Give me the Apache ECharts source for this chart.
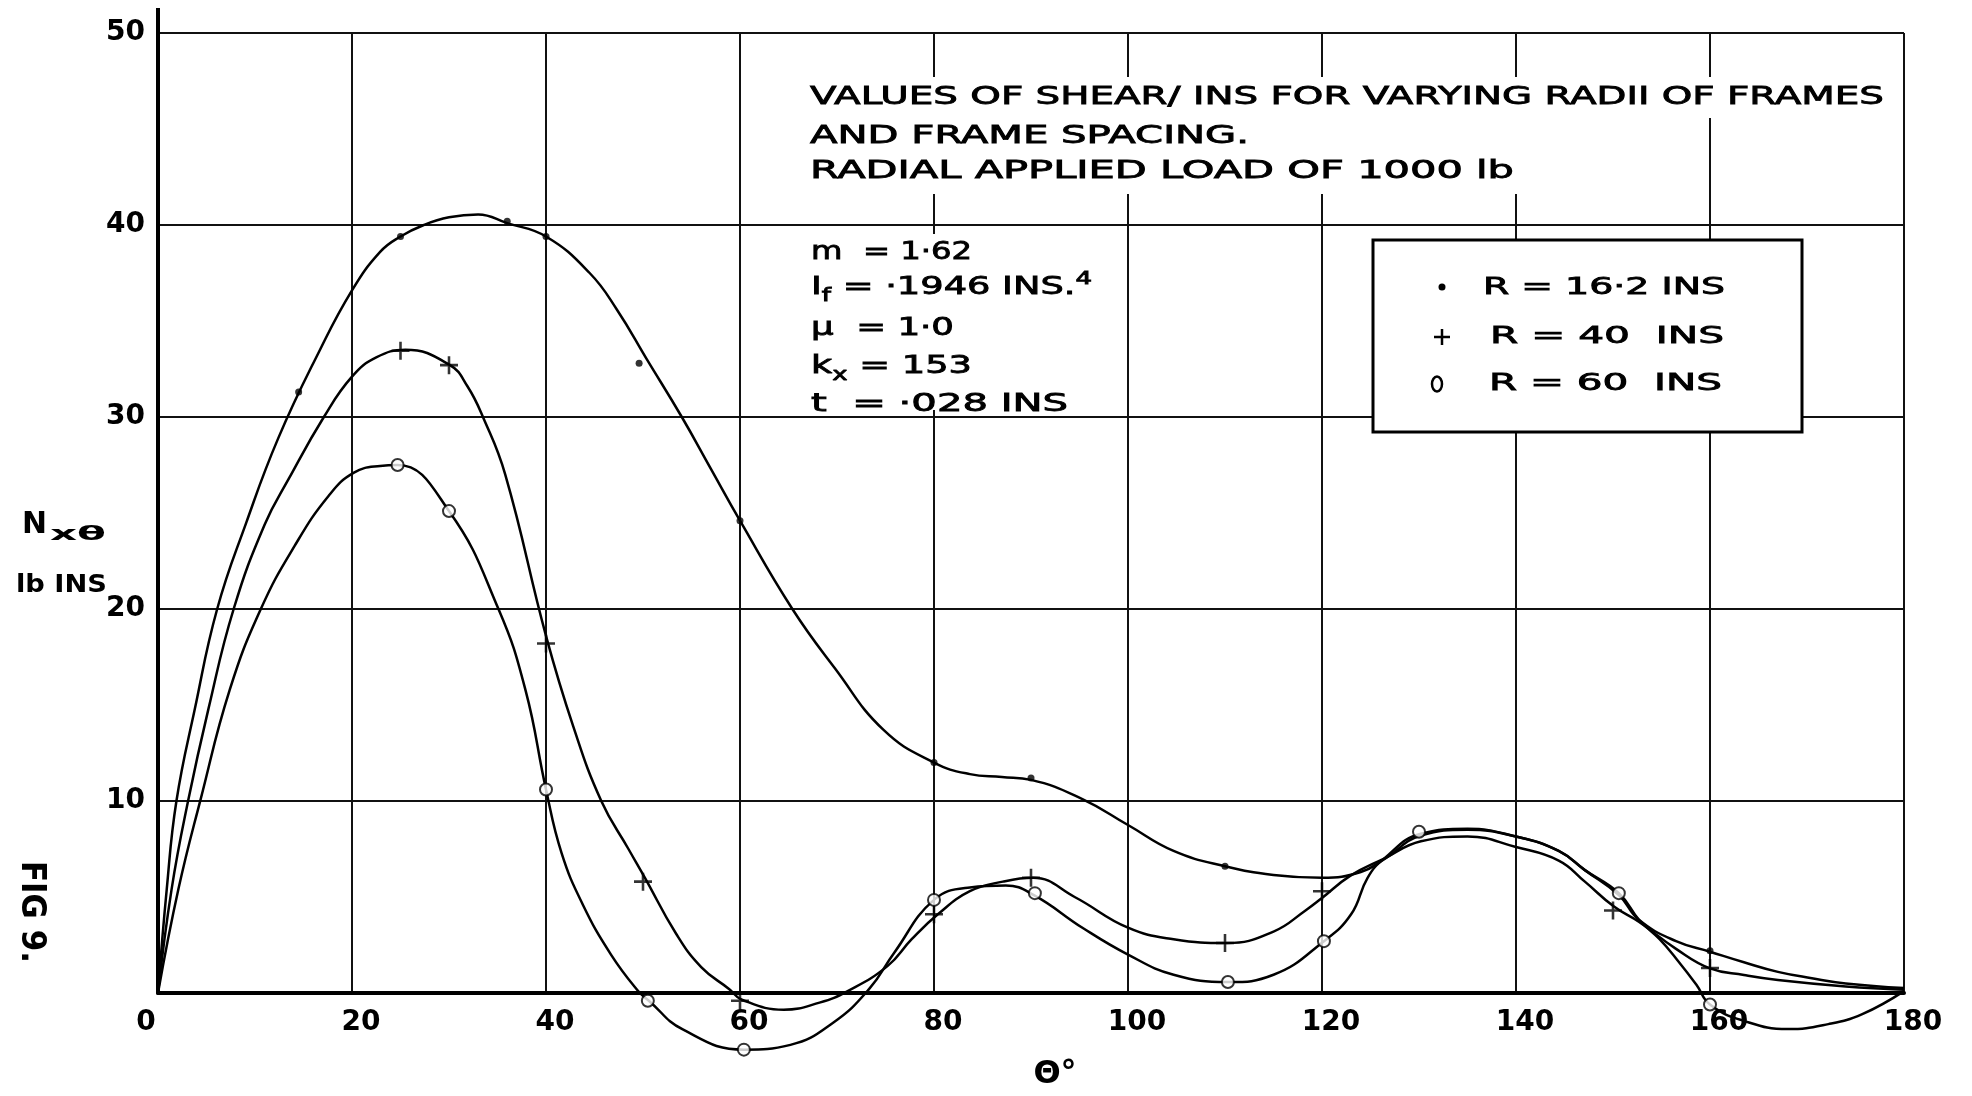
<!DOCTYPE html>
<html>
<head>
<meta charset="utf-8">
<script src="https://cdn.jsdelivr.net/npm/echarts@6/dist/echarts.min.js"></script>
<style>
html,body{margin:0;padding:0;background:#ffffff;}
#chart{width:1972px;height:1096px;}
</style>
</head>
<body>
<div id="chart"></div>
<script>
// ---------------- data ----------------
const xTickValues = [0, 20, 40, 60, 80, 100, 120, 140, 160, 180];
const xTickLabels = ['0', '20', '40', '60', '80', '100', '120', '140', '160', '180'];
const yTickValues = [0, 10, 20, 30, 40, 50];
const yTickLabels = ['', '10', '20', '30', '40', '50'];

const seriesNames = ['R = 16·2 INS', 'R = 40  INS', 'R = 60  INS'];

// faired curves (theta in degrees, N x-theta in lb/in)
const curveR16 = [[0,0],[0.9,5.4],[1.9,10],[3.8,14.8],[6.1,20],[9.1,24.5],[12.4,28.9],[16.6,33.4],[20,36.6],[22.9,38.6],[25,39.4],[27.4,40],[30,40.4],[33,40.55],[36,40.1],[40,39.4],[44.5,37.5],[47.3,35.6],[50.4,33.0],[54,30.0],[57,27.3],[60,24.6],[65.4,20],[69.8,16.9],[74.8,13.7],[80,12.0],[83.7,11.4],[87,11.25],[90,11.1],[95.3,10.1],[100,8.75],[104.7,7.4],[110,6.6],[115,6.15],[120,6.0],[124,6.3],[126.5,7.0],[130.2,8.2],[135,8.5],[140,8.15],[144.4,7.4],[147.1,6.4],[150.6,5.1],[152.7,3.8],[156.5,2.7],[160,2.15],[163.5,1.6],[167,1.1],[170.5,0.77],[174,0.5],[180,0.26]];
const curveR40 = [[0,0],[1.4,5.4],[3.1,10],[5.2,14.8],[7.8,20],[11,24.4],[13.5,26.8],[17.1,30],[20,32.1],[22.5,33.1],[25.5,33.5],[30.1,32.7],[31.9,31.6],[33.5,30],[35.8,27.0],[40,18.6],[42.8,13.9],[45.7,10],[48.5,7.5],[50.2,6.0],[53.4,3.1],[56,1.35],[58.9,0.2],[60.2,-0.35],[64.5,-0.87],[68.2,-0.5],[71.1,0.1],[75.2,1.4],[77.7,2.8],[80.4,4.1],[83.7,5.3],[87.1,5.8],[90.2,6.0],[94.5,5.0],[100,3.4],[104.7,2.8],[110.2,2.6],[115,3.2],[118.3,4.3],[120,4.95],[122.9,6.1],[126.4,7.0],[130.2,7.9],[135,8.15],[140,7.6],[144.4,6.9],[147.1,5.8],[150.1,4.5],[152.7,3.7],[156.5,2.3],[160,1.28],[163.5,0.94],[167,0.68],[174,0.34],[180,0.17]];
const curveR60 = [[0,0],[2.1,5.4],[4.4,10.1],[7.4,15.8],[10.6,20],[14.1,23.3],[17.6,25.9],[20.2,27.1],[22.9,27.45],[24.7,27.5],[30,25.1],[35.1,20],[37.9,15.75],[40,10.6],[41.6,7.3],[43.8,4.6],[46.7,2.0],[49.5,0.1],[50.6,-0.4],[54.1,-1.9],[60.4,-2.95],[65.2,-2.7],[69.6,-1.55],[73.3,0.2],[75.9,2.1],[80,4.85],[83.7,5.5],[87.4,5.6],[90.3,5.1],[95.3,3.4],[100,2.0],[104.7,0.95],[110.3,0.57],[115,0.95],[120.2,2.7],[123,4.1],[124.7,6.0],[126.4,7.0],[130.2,8.3],[135,8.55],[140,8.15],[144.4,7.4],[147.1,6.4],[150.6,5.2],[152.7,3.8],[154.8,2.8],[156.5,1.8],[158.6,0.43],[160,-0.6],[163.5,-1.45],[168,-1.88],[172.2,-1.62],[175.7,-1.1],[180,0.1]];

// plotted points
const pointsR16 = [[14.5,31.3],[25,39.4],[36,40.2],[40,39.4],[49.6,32.8],[60,24.6],[80,12.0],[90,11.2],[110,6.6],[160,2.2]];
const pointsR40 = [[25,33.45],[30,32.7],[40,18.2],[50,5.8],[60,-0.4],[80,4.1],[90,6.0],[110,2.6],[120,5.3],[150,4.3],[160,1.3]];
const pointsR60 = [[24.7,27.5],[30,25.1],[40,10.6],[50.5,-0.4],[60.4,-2.95],[80,4.85],[90.4,5.2],[110.3,0.57],[120.2,2.7],[130,8.4],[150.6,5.2],[160,-0.6]];

const titleLines = ['VALUES OF SHEAR/ INS FOR VARYING RADII OF FRAMES', 'AND FRAME SPACING.', 'RADIAL APPLIED LOAD OF 1000 lb'];
const xAxisName = 'Θ°';
const figLabel = 'FIG 9.';

// ---------------- helpers ----------------
const FONT = '"DejaVu Sans", sans-serif';
const mctx = document.createElement('canvas').getContext('2d');
function textW(t, size, weight) { mctx.font = (weight || 'normal') + ' ' + size + 'px ' + FONT; return mctx.measureText(t).width; }
function txt(t, x, y, size, targetW, extra, weight) {
  const wt = weight || 'normal';
  const sx = targetW ? targetW / textW(t, size, wt) : 1;
  const st = { text: t, fill: '#000', font: wt + ' ' + size + 'px ' + FONT, align: 'left', verticalAlign: 'middle' };
  if (wt === 'normal') { st.stroke = '#000'; st.lineWidth = 0.8; }
  return Object.assign({ type: 'text', x: x, y: y, scaleX: sx, z: 20, silent: true, style: st }, extra || {});
}
// rich text with sub/superscripts; tokens: [text, size, va, lineHeight]
function richTxt(tokens, x, y, targetW) {
  const rich = {}; let s = ''; let w = 0;
  tokens.forEach(function (tk, i) {
    const k = 't' + i;
    rich[k] = { fontSize: tk[1], fontWeight: 'normal', fontFamily: FONT, fill: '#000', stroke: '#000', lineWidth: 0.8, verticalAlign: tk[2] || 'middle', lineHeight: tk[3] || 34 };
    s += '{' + k + '|' + tk[0] + '}';
    w += textW(tk[0], tk[1], 'normal');
  });
  return {
    type: 'text', x: x, y: y, scaleX: targetW / w, z: 20, silent: true,
    style: { text: s, rich: rich, fill: '#000', align: 'left', verticalAlign: 'middle' }
  };
}

const PLUS = 'path://M6,0h2v6h6v2h-6v6h-2v-6h-6v-2h6z';

// ---------------- decorations ----------------
const graphics = [
  { type: 'line', z: 5, silent: true, shape: { x1: 158, y1: 8, x2: 158, y2: 35 }, style: { stroke: '#000', lineWidth: 4 } },
  { type: 'rect', z: 10, silent: true, shape: { x: 800, y: 77, width: 722, height: 117 }, style: { fill: '#fff' } },
  { type: 'rect', z: 10, silent: true, shape: { x: 1520, y: 77, width: 372, height: 41 }, style: { fill: '#fff' } },
  { type: 'rect', z: 10, silent: true, shape: { x: 805, y: 234, width: 296, height: 176 }, style: { fill: '#fff' } },
  { type: 'rect', z: 10, silent: true, shape: { x: 1373, y: 240, width: 429, height: 192 }, style: { fill: '#fff', stroke: '#000', lineWidth: 3 } },
  { type: 'circle', z: 21, silent: true, shape: { cx: 1442, cy: 287, r: 3.5 }, style: { fill: '#000' } },
  { type: 'line', z: 21, silent: true, shape: { x1: 1434, y1: 337, x2: 1450, y2: 337 }, style: { stroke: '#000', lineWidth: 2.5 } },
  { type: 'line', z: 21, silent: true, shape: { x1: 1442, y1: 329, x2: 1442, y2: 345 }, style: { stroke: '#000', lineWidth: 2.5 } },
  { type: 'ellipse', z: 21, silent: true, shape: { cx: 1437, cy: 384, rx: 5, ry: 7.5 }, style: { fill: '#fff', stroke: '#000', lineWidth: 2.5 } },
  txt(seriesNames[0], 1483, 288, 23, 242),
  txt(seriesNames[1], 1490, 337, 23, 234),
  txt(seriesNames[2], 1489, 384, 23, 233),
  txt(titleLines[0], 810, 98, 24, 1074),
  txt(titleLines[1], 810, 137, 24, 439),
  txt(titleLines[2], 810, 172, 24, 704),
  txt('m  = 1·62', 811, 253, 24, 161),
  richTxt([['I', 24], ['f', 17, 'bottom', 18], [' = ·1946 INS.', 24], ['4', 17, 'top', 10]], 811, 288, 281),
  txt('μ  = 1·0', 811, 329, 24, 143),
  richTxt([['k', 24], ['x', 17, 'bottom', 18], [' = 153', 24]], 811, 367, 161),
  txt('t  = ·028 INS', 811, 405, 24, 257),
  txt('N', 22, 525, 30, 25, null, 'bold'),
  txt('xθ', 50, 535, 19, 56, null, 'bold'),
  txt('lb INS', 16, 586, 24, 91, null, 'bold'),
  txt(figLabel, 31, 861, 33, 102, { rotation: -Math.PI / 2 }, 'bold')
];

// ---------------- chart ----------------
const chart = echarts.init(document.getElementById('chart'), null, { renderer: 'canvas' });
const lineBase = { type: 'line', showSymbol: false, symbol: 'none', smooth: 0.45, clip: false, silent: true, z: 2, lineStyle: { color: '#000', width: 2.5 } };
const labelFont = { color: '#000', fontSize: 28, fontWeight: 'bold', fontFamily: FONT };
const option = {
  animation: false,
  backgroundColor: '#ffffff',
  grid: { left: 158, right: 68, top: 33, bottom: 99 },
  xAxis: {
    type: 'value', min: 0, max: 180, interval: 20,
    axisLine: { show: true, onZero: false, lineStyle: { color: '#000', width: 4 } },
    axisTick: { show: false },
    splitLine: { show: true, lineStyle: { color: '#111', width: 2 } },
    axisLabel: Object.assign({}, labelFont, {
      margin: 16,
      formatter: function (v) {
        const i = xTickValues.indexOf(v);
        if (i < 0) return '';
        return (v === 0 ? '{l|' : '{r|') + xTickLabels[i] + '}';
      },
      rich: {
        l: Object.assign({}, labelFont, { padding: [0, 24, 0, 0] }),
        r: Object.assign({}, labelFont, { padding: [0, 0, 0, 18] })
      }
    }),
    name: xAxisName, nameLocation: 'middle', nameGap: 66,
    nameTextStyle: { color: '#000', fontSize: 32, fontWeight: 'bold', fontFamily: FONT, padding: [0, 0, 0, 48] }
  },
  yAxis: {
    type: 'value', min: 0, max: 50, interval: 10,
    axisLine: { show: true, lineStyle: { color: '#000', width: 4 } },
    axisTick: { show: false },
    splitLine: { show: true, lineStyle: { color: '#111', width: 2 } },
    axisLabel: Object.assign({}, labelFont, {
      margin: 13,
      formatter: function (v) { const i = yTickValues.indexOf(v); return i >= 0 ? yTickLabels[i] : ''; }
    })
  },
  series: [
    Object.assign({}, lineBase, { name: seriesNames[0] + ' curve', data: curveR16 }),
    Object.assign({}, lineBase, { name: seriesNames[1] + ' curve', data: curveR40 }),
    Object.assign({}, lineBase, { name: seriesNames[2] + ' curve', data: curveR60 }),
    { type: 'scatter', name: seriesNames[0], data: pointsR16, symbol: 'circle', symbolSize: 7, clip: false, z: 4, itemStyle: { color: '#000' } },
    { type: 'scatter', name: seriesNames[1], data: pointsR40, symbol: PLUS, symbolSize: 18, clip: false, z: 4, itemStyle: { color: '#000' } },
    { type: 'scatter', name: seriesNames[2], data: pointsR60, symbol: 'circle', symbolSize: 12, clip: false, z: 4, itemStyle: { color: '#fff', borderColor: '#000', borderWidth: 2 } }
  ],
  graphic: { elements: graphics }
};
chart.setOption(option);
</script>
</body>
</html>
